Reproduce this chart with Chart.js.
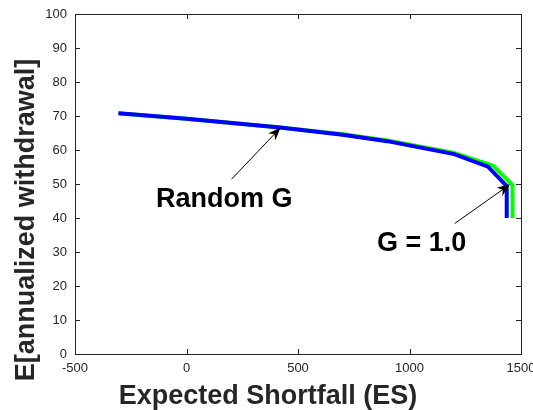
<!DOCTYPE html>
<html>
<head>
<meta charset="utf-8">
<script src="https://cdn.jsdelivr.net/npm/chart.js@4/dist/chart.umd.min.js"></script>
<style>
  html, body { margin: 0; padding: 0; background: #fff; }
  #wrap { width: 533px; height: 410px; }
</style>
</head>
<body>
<div id="wrap"><canvas id="esChart" width="533" height="410"></canvas></div>
<script>
// values
const blueES = [-305, 0, 420, 700, 900, 1200, 1352, 1436, 1436];
const blueW = [70.8, 69.2, 66.6, 64.5, 62.6, 58.8, 55.1, 49.4, 40];
const greenES = [-305, 0, 420, 700, 900, 1200, 1375, 1462, 1462];
const greenW = [70.8, 69.2, 66.6, 64.6, 62.8, 59.1, 55.4, 49.7, 40];

const xTicks = [-500, 0, 500, 1000, 1500];
const yTicks = [0, 10, 20, 30, 40, 50, 60, 70, 80, 90, 100];

// text + arrow: [label, textX px, textY px, tail es, tail w, tip es, tip w]
const notes = [
  ["Random G", 156, 200, 202, 51.4, 422, 66.6],
  ["G = 1.0", 377, 244, 1203, 38.4, 1451, 49.9],
];

const toPts = (xs, ys) => xs.map((x, i) => ({ x: x, y: ys[i] }));

// box, inward ticks, axis titles, annotations
const decor = {
  id: "decor",
  afterDraw(chart) {
    const ctx = chart.ctx;
    const a = chart.chartArea;
    const xs = chart.scales.x, ys = chart.scales.y;
    ctx.save();
    ctx.strokeStyle = "#262626";
    ctx.lineWidth = 1;
    ctx.beginPath();
    ctx.moveTo(a.left, a.top + 0.5);
    ctx.lineTo(a.right + 0.5, a.top + 0.5);
    ctx.lineTo(a.right + 0.5, a.bottom);
    xTicks.forEach((v) => {
      const px = Math.round(xs.getPixelForValue(v)) + 0.5;
      ctx.moveTo(px, a.bottom); ctx.lineTo(px, a.bottom - 5);
      ctx.moveTo(px, a.top); ctx.lineTo(px, a.top + 5);
    });
    yTicks.forEach((v) => {
      const py = Math.round(ys.getPixelForValue(v)) + 0.5;
      ctx.moveTo(a.left, py); ctx.lineTo(a.left + 5, py);
      ctx.moveTo(a.right, py); ctx.lineTo(a.right - 5, py);
    });
    ctx.stroke();

    ctx.fillStyle = "#262626";
    ctx.font = "bold 27px 'Liberation Sans', Arial, sans-serif";
    ctx.textAlign = "center";
    ctx.textBaseline = "middle";
    ctx.fillText("Expected Shortfall (ES)", 268, 397);
    ctx.translate(27, 220);
    ctx.rotate(-Math.PI / 2);
    ctx.fillText("E[annualized withdrawal]", 0, 0);
    ctx.restore();

    ctx.save();
    ctx.fillStyle = "#000";
    ctx.strokeStyle = "#000";
    ctx.font = "bold 27px 'Liberation Sans', Arial, sans-serif";
    ctx.textAlign = "left";
    ctx.textBaseline = "middle";
    notes.forEach((n) => {
      ctx.fillText(n[0], n[1], n[2]);
      const x0 = xs.getPixelForValue(n[3]), y0 = ys.getPixelForValue(n[4]);
      const x1 = xs.getPixelForValue(n[5]), y1 = ys.getPixelForValue(n[6]);
      const ang = Math.atan2(y1 - y0, x1 - x0);
      ctx.lineWidth = 1;
      ctx.beginPath();
      ctx.moveTo(x0, y0);
      ctx.lineTo(x1 - 8 * Math.cos(ang), y1 - 8 * Math.sin(ang));
      ctx.stroke();
      ctx.beginPath();
      ctx.moveTo(x1, y1);
      ctx.lineTo(x1 - 13 * Math.cos(ang) + 5 * Math.sin(ang), y1 - 13 * Math.sin(ang) - 5 * Math.cos(ang));
      ctx.lineTo(x1 - 9 * Math.cos(ang), y1 - 9 * Math.sin(ang));
      ctx.lineTo(x1 - 13 * Math.cos(ang) - 5 * Math.sin(ang), y1 - 13 * Math.sin(ang) + 5 * Math.cos(ang));
      ctx.closePath();
      ctx.fill();
    });
    ctx.restore();
  },
};

new Chart(document.getElementById("esChart"), {
  type: "scatter",
  data: {
    datasets: [
      {
        label: "G = 1.0",
        data: toPts(greenES, greenW),
        showLine: true,
        borderColor: "#00ff00",
        borderWidth: 4,
        pointRadius: 0,
        tension: 0,
        order: 2,
      },
      {
        label: "Random G",
        data: toPts(blueES, blueW),
        showLine: true,
        borderColor: "#0000ff",
        borderWidth: 4,
        pointRadius: 0,
        tension: 0,
        order: 1,
      },
    ],
  },
  options: {
    responsive: false,
    animation: false,
    events: [],
    layout: { padding: { left: 0, top: 14, right: 12, bottom: 0 } },
    plugins: { legend: { display: false }, tooltip: { enabled: false } },
    scales: {
      x: {
        type: "linear",
        min: -500,
        max: 1500,
        afterBuildTicks: (s) => { s.ticks = xTicks.map((v) => ({ value: v })); },
        afterFit: (s) => { s.height = 56; s.paddingLeft = 0; s.paddingRight = 0; },
        grid: { drawOnChartArea: false, drawTicks: false },
        border: { color: "#262626", width: 1 },
        ticks: {
          padding: 7,
          color: "#262626",
          font: { family: "'Liberation Sans', Arial, sans-serif", size: 13 },
          maxRotation: 0,
          callback: (v) => String(v),
        },
      },
      y: {
        type: "linear",
        min: 0,
        max: 100,
        afterBuildTicks: (s) => { s.ticks = yTicks.map((v) => ({ value: v })); },
        afterFit: (s) => { s.width = 75; s.paddingTop = 0; s.paddingBottom = 0; },
        grid: { drawOnChartArea: false, drawTicks: false },
        border: { color: "#262626", width: 1 },
        ticks: {
          padding: 8,
          color: "#262626",
          font: { family: "'Liberation Sans', Arial, sans-serif", size: 13 },
          callback: (v) => String(v),
        },
      },
    },
  },
  plugins: [decor],
});
</script>
</body>
</html>
